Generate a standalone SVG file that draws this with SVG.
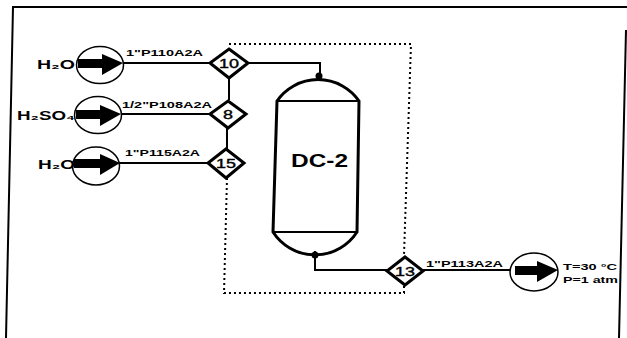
<svg xmlns="http://www.w3.org/2000/svg" width="627" height="338" viewBox="0 0 627 338">
<style>
.f{fill:none;stroke:#000;stroke-width:2}
.l{fill:none;stroke:#000;stroke-width:2}
.d{fill:none;stroke:#000;stroke-width:2;stroke-dasharray:2 3}
.v{fill:#fff;stroke:#000;stroke-width:3;stroke-linejoin:miter}
.c{fill:#fff;stroke:#000;stroke-width:1.5}
.a{fill:#000;stroke:none}
text{font-family:"Liberation Sans",Arial,sans-serif;fill:#000;font-weight:bold}
.p{font-size:9.5px}
.n{font-size:13.5px;font-weight:normal;stroke:#000;stroke-width:.4}
.h{font-size:13px}
</style>
<g id="frame"><path class="f" d="M6 338L13 7H627M626 30L619 338"/></g>
<g id="dc2">
<path class="v" d="M277 101A50 50 0 0 1 359 101L357 232A50 50 0 0 1 273 232Z"/>
<path class="l" d="M277 101H359M273 232H357"/>
<text x="291" y="167" textLength="57" lengthAdjust="spacingAndGlyphs" style="font-size:18px">DC-2</text>
</g>
<g id="connectors">
<path class="l" d="M122 63H210M229 77V100M227 128V150M120 114H210M119 163H208M248 63H320V80M315 251V270H387M423 270H512"/>
<path class="d" d="M229 44H411L404 255M227 178L224 293H404V286"/>
<circle cx="319" cy="76" r="3.5"/><circle cx="315" cy="255" r="3.5"/>
</g>
<g id="n10"><path class="v" d="M229 49L248 63L229 78L210 63Z"/><text class="n" x="219" y="68" textLength="20" lengthAdjust="spacingAndGlyphs">10</text></g>
<g id="n8"><path class="v" d="M228 101L246 114L228 128L210 114Z"/><text class="n" x="223" y="119" textLength="10" lengthAdjust="spacingAndGlyphs">8</text></g>
<g id="n15"><path class="v" d="M226 149L244 163L226 178L208 163Z"/><text class="n" x="216" y="168" textLength="20" lengthAdjust="spacingAndGlyphs">15</text></g>
<g id="n13"><path class="v" d="M405 257L423 271L405 285L387 271Z"/><text class="n" x="395" y="276" textLength="20" lengthAdjust="spacingAndGlyphs">13</text></g>
<g id="s1"><ellipse class="c" cx="100" cy="65" rx="23.5" ry="18.5"/><path class="a" d="M78 59H102V54L123 63L102 75V68H78Z"/><text class="h" x="37" y="69" textLength="38" lengthAdjust="spacingAndGlyphs">H₂O</text><text class="p" x="126" y="56" textLength="77" lengthAdjust="spacingAndGlyphs">1"P110A2A</text></g>
<g id="s2"><ellipse class="c" cx="98" cy="115" rx="23.5" ry="18.5"/><path class="a" d="M76 110H100V105L121 114L100 126V119H76Z"/><text class="h" x="17" y="120" textLength="58" lengthAdjust="spacingAndGlyphs">H₂SO₄</text><text class="p" x="122" y="108" textLength="90" lengthAdjust="spacingAndGlyphs">1/2"P108A2A</text></g>
<g id="s3"><ellipse class="c" cx="96" cy="166" rx="23.5" ry="19"/><path class="a" d="M74 159H100V154L120 163L100 175V168H74Z"/><text class="h" x="38" y="169" textLength="37" lengthAdjust="spacingAndGlyphs">H₂O</text><text class="p" x="125" y="156" textLength="75" lengthAdjust="spacingAndGlyphs">1"P115A2A</text></g>
<g id="s4"><ellipse class="c" cx="534" cy="272" rx="24" ry="19"/><path class="a" d="M515 266H537V261L558 270L537 282V275H515Z"/><text class="p" x="426" y="267" textLength="77" lengthAdjust="spacingAndGlyphs">1"P113A2A</text><text class="p" x="563" y="270" textLength="54" lengthAdjust="spacingAndGlyphs">T=30 °C</text><text class="p" x="563" y="283" textLength="55" lengthAdjust="spacingAndGlyphs">P=1 atm</text></g>
</svg>
